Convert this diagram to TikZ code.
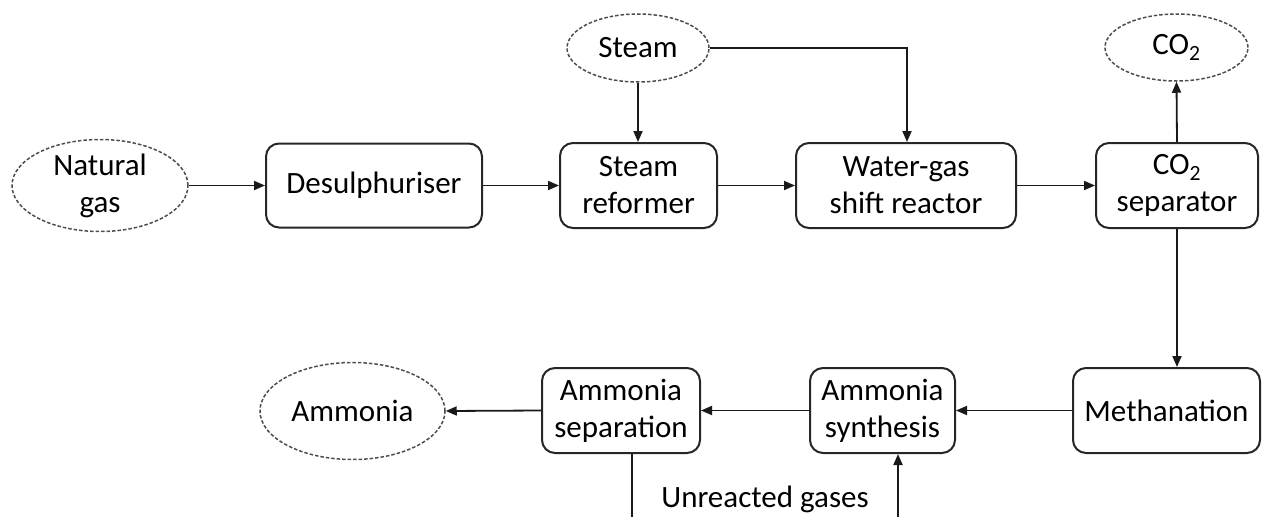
\documentclass[tikz,border=0pt]{standalone}
\usepackage{fontspec}
\setmainfont{Carlito}
\usetikzlibrary{shapes.geometric,arrows.meta}
\begin{document}
\begin{tikzpicture}[x=1pt,y=-1pt,
  font=\fontsize{31}{37}\selectfont,
  proc/.style={draw=black!85,line width=2pt,rounded corners=13pt,align=center,inner sep=0pt},
  ext/.style={ellipse,draw=black!70,line width=1.5pt,dash pattern=on 3.5pt off 2pt,align=center,inner sep=0pt},
  flow/.style={draw=black!90,line width=1.8pt,-{Triangle[length=11pt,width=9pt]}},
  plain/.style={draw=black!90,line width=1.8pt}]
\useasboundingbox (0,0) rectangle (1270,517);
% external streams
\node[ext,minimum width=176pt,minimum height=92pt] (ng) at (100,185.5) {Natural\\gas};
\node[ext,minimum width=142pt,minimum height=68pt] (steam) at (638,48) {Steam};
\node[ext,minimum width=143pt,minimum height=67pt] (co2) at (1176.5,47.5) {CO\textsubscript{2}};
\node[ext,minimum width=185pt,minimum height=97pt] (nh3) at (352.5,411) {Ammonia};
% process units
\node[proc,minimum width=216pt,minimum height=84pt] (desul) at (374,185.5) {Desulphuriser};
\node[proc,minimum width=157pt,minimum height=85pt] (ref) at (638.5,185.5) {Steam\\reformer};
\node[proc,minimum width=220pt,minimum height=85pt] (wgs) at (906,185.5) {Water-gas\\shift reactor};
\node[proc,minimum width=162pt,minimum height=85pt] (sep) at (1177,185.5) {CO\textsubscript{2}\\separator};
\node[proc,minimum width=187pt,minimum height=85pt] (meth) at (1166.5,410.5) {Methanation};
\node[proc,minimum width=145pt,minimum height=85pt] (syn) at (882.5,410.5) {Ammonia\\synthesis};
\node[proc,minimum width=158pt,minimum height=85pt] (asep) at (621,410.5) {Ammonia\\separation};
% bottom loop ends (cut by the frame)
\coordinate (b1) at (632,520);
\coordinate (b2) at (898,520);
\node (ug) at (765,499) {Unreacted gases};
% connectors
\draw[flow] (ng.east) -- (desul.west);
\draw[flow] (desul.east) -- (ref.west);
\draw[flow] (steam.south) -- (steam.south |- ref.north);
\draw[flow] (steam.east) -| ([xshift=1pt]wgs.north);
\draw[flow] (ref.east) -- (wgs.west);
\draw[flow] (wgs.east) -- (sep.west);
\draw[flow] (sep.north) -- (co2.south);
\draw[flow] (sep.south) -- (sep.south |- meth.north);
\draw[flow] (meth.west) -- (syn.east);
\draw[flow] (syn.west) -- (asep.east);
\draw[flow] (asep.west) -- (nh3.east);
\draw[plain] (asep.south -| b1) -- (b1);
\draw[flow] (b2) -- (b2 |- syn.south);
\end{tikzpicture}
\end{document}
